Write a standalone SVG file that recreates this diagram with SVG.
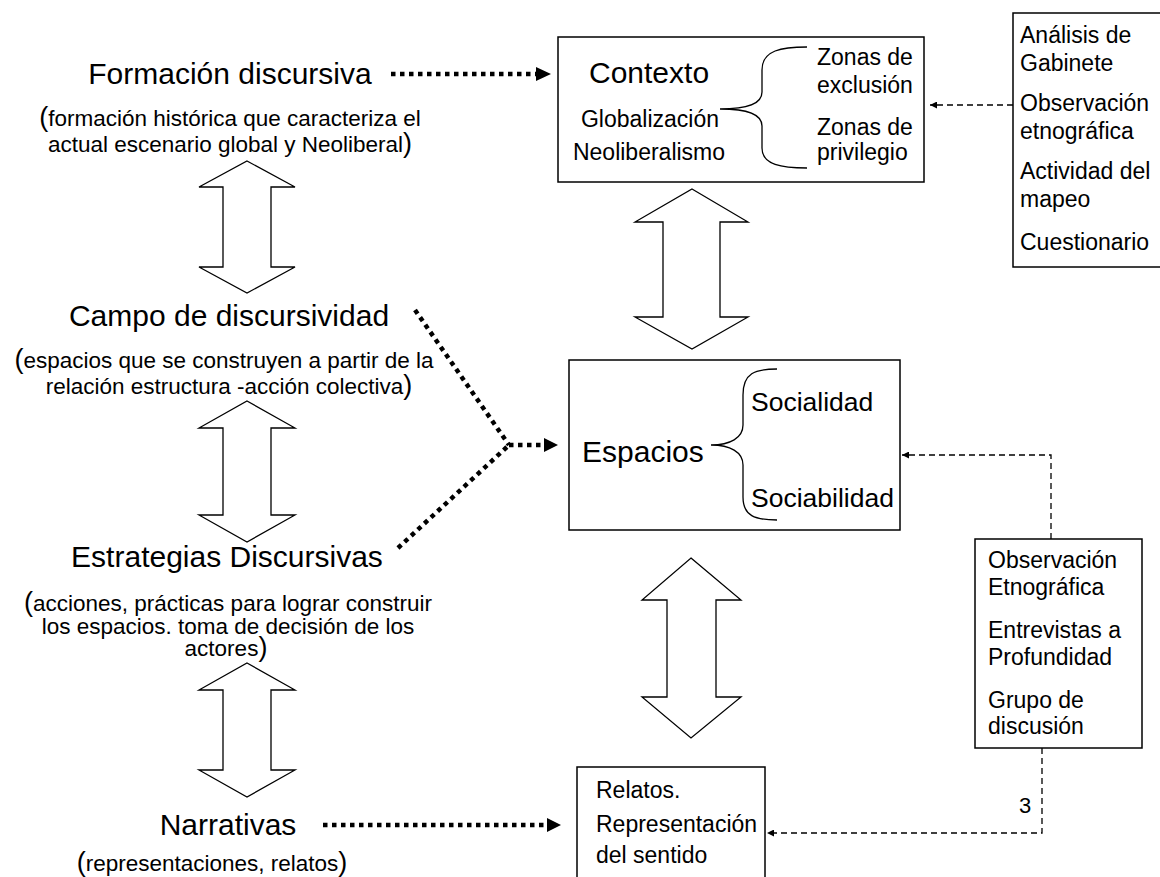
<svg xmlns="http://www.w3.org/2000/svg" width="1160" height="877" viewBox="0 0 1160 877">
<defs>
<style>
text{font-family:"Liberation Sans",Arial,sans-serif;fill:#000}
.big{font-size:30px}
.mid{font-size:23px}
.soc{font-size:26.5px}
.par{font-size:22.5px}
.pp{font-size:27px}
.box{fill:#fff;stroke:#000;stroke-width:1.5}
.dbl{fill:#fff;stroke:#000;stroke-width:1.3;stroke-linejoin:miter}
.brace{fill:none;stroke:#000;stroke-width:1.3}
.dot{fill:none;stroke:#000;stroke-width:4.5;stroke-dasharray:4.5 4.5}
.dash{fill:none;stroke:#000;stroke-width:1.3;stroke-dasharray:6 4}
</style>
<marker id="ah" viewBox="0 0 10 10" refX="10" refY="5" markerWidth="8" markerHeight="7" markerUnits="userSpaceOnUse" orient="auto">
<path d="M0,0 L10,5 L0,10 Z" fill="#000"/>
</marker>
</defs>

<g id="formacion">
<text class="big" x="230" y="84" text-anchor="middle">Formación discursiva</text>
<text class="par" x="230" y="126" text-anchor="middle"><tspan class="pp">(</tspan>formación histórica que caracteriza el</text>
<text class="par" x="230" y="152" text-anchor="middle">actual escenario global y Neoliberal<tspan class="pp">)</tspan></text>
</g>

<g id="campo">
<text class="big" x="229" y="326" text-anchor="middle">Campo de discursividad</text>
<text class="par" x="224" y="368" text-anchor="middle"><tspan class="pp">(</tspan>espacios que se construyen a partir de la</text>
<text class="par" x="229" y="394" text-anchor="middle">relación estructura -acción colectiva<tspan class="pp">)</tspan></text>
</g>

<g id="estrategias">
<text class="big" x="227" y="567" text-anchor="middle">Estrategias Discursivas</text>
<text class="par" x="228" y="611" text-anchor="middle"><tspan class="pp">(</tspan>acciones, prácticas para lograr construir</text>
<text class="par" x="228" y="634" text-anchor="middle">los espacios. toma de decisión de los</text>
<text class="par" x="226" y="656" text-anchor="middle">actores<tspan class="pp">)</tspan></text>
</g>

<g id="narrativas">
<text class="big" x="228" y="835" text-anchor="middle">Narrativas</text>
<text class="par" x="212" y="871" text-anchor="middle"><tspan class="pp">(</tspan>representaciones, relatos<tspan class="pp">)</tspan></text>
</g>

<g id="contexto">
<rect class="box" x="558" y="37" width="366" height="145"/>
<text class="big" x="589" y="83">Contexto</text>
<text class="mid" x="650" y="127" text-anchor="middle">Globalización</text>
<text class="mid" x="649" y="160" text-anchor="middle">Neoliberalismo</text>
<path class="brace" d="M807,47 C782,47 762,50 762,70 L762,92 C762,104 748,109 720,109 C748,109 762,114 762,126 L762,148 C762,165 782,168 807,168"/>
<text class="mid" x="817" y="65">Zonas de</text>
<text class="mid" x="817" y="93">exclusión</text>
<text class="mid" x="817" y="135">Zonas de</text>
<text class="mid" x="817" y="160">privilegio</text>
</g>

<g id="metodos1">
<rect class="box" x="1013" y="13" width="160" height="254"/>
<text class="mid" x="1020" y="43">Análisis de</text>
<text class="mid" x="1020" y="71">Gabinete</text>
<text class="mid" x="1020" y="111">Observación</text>
<text class="mid" x="1020" y="139">etnográfica</text>
<text class="mid" x="1020" y="179">Actividad del</text>
<text class="mid" x="1020" y="207">mapeo</text>
<text class="mid" x="1020" y="250">Cuestionario</text>
</g>

<g id="espacios">
<rect class="box" x="569" y="360" width="331" height="170"/>
<text class="big" x="582" y="462">Espacios</text>
<path class="brace" d="M777,369 C755,369 743,373 743,395 L743,425 C743,438 730,445 711,445 C730,445 743,452 743,465 L743,497 C743,516 755,520 777,520"/>
<text class="soc" x="751" y="411">Socialidad</text>
<text class="soc" x="751" y="507">Sociabilidad</text>
</g>

<g id="metodos2">
<rect class="box" x="975" y="539" width="167" height="209"/>
<text class="mid" x="988" y="568">Observación</text>
<text class="mid" x="988" y="595">Etnográfica</text>
<text class="mid" x="988" y="638">Entrevistas a</text>
<text class="mid" x="988" y="665">Profundidad</text>
<text class="mid" x="988" y="708">Grupo de</text>
<text class="mid" x="988" y="734">discusión</text>
</g>

<g id="relatos">
<rect class="box" x="577" y="767" width="188" height="120"/>
<text class="mid" x="596" y="798">Relatos.</text>
<text class="mid" x="596" y="832">Representación</text>
<text class="mid" x="596" y="863">del sentido</text>
</g>

<g id="pagina">
<text x="1025" y="813" text-anchor="middle" style="font-size:22px">3</text>
</g>

<g id="connectors">
<path class="dbl" d="M247,161 L295,187 L271,187 L271,267 L295,267 L247,293 L199,267 L223,267 L223,187 L199,187 Z"/>
<path class="dbl" d="M247,401 L295,428 L271,428 L271,515 L295,515 L247,542 L199,515 L223,515 L223,428 L199,428 Z"/>
<path class="dbl" d="M247,663 L295,690 L271,690 L271,770 L295,770 L247,797 L199,770 L223,770 L223,690 L199,690 Z"/>
<path class="dbl" d="M692,189 L748,222 L720,222 L720,317 L748,317 L692,349 L635,317 L663,317 L663,222 L635,222 Z"/>
<path class="dbl" d="M691,558 L741,600 L716,600 L716,697 L741,697 L691,738 L642,697 L667,697 L667,600 L642,600 Z"/>

<line class="dot" x1="391" y1="74" x2="537" y2="74"/>
<path d="M536,67 L551,74 L536,81 Z"/>
<line class="dot" x1="415" y1="310" x2="509" y2="445"/>
<line class="dot" x1="398" y1="548" x2="509" y2="445"/>
<line class="dot" x1="509" y1="445" x2="545" y2="445"/>
<path d="M544,438 L558,445 L544,452 Z"/>
<line class="dot" x1="323" y1="825" x2="548" y2="825"/>
<path d="M547,818 L561,825 L547,832 Z"/>

<path class="dash" d="M1013,105 L930,105" marker-end="url(#ah)"/>
<path class="dash" d="M1051,539 L1051,455 L902,455" marker-end="url(#ah)"/>
<path class="dash" d="M1042,748 L1042,833 L767,833" marker-end="url(#ah)"/>
</g>
</svg>
